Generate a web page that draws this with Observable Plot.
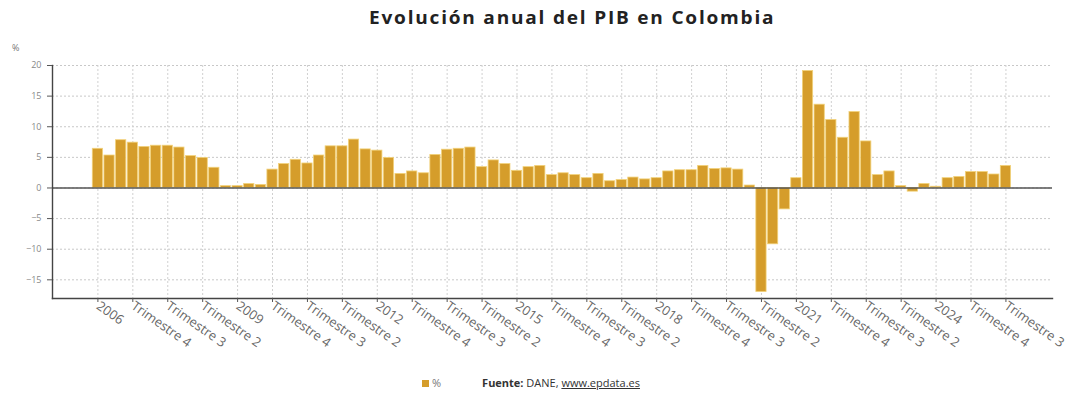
<!DOCTYPE html>
<html><head><meta charset="utf-8">
<script src="https://cdn.jsdelivr.net/npm/d3@7"></script>
<script src="https://cdn.jsdelivr.net/npm/@observablehq/plot@0.6"></script>
<style>
body{margin:0;background:#fff;font-family:"Open Sans",sans-serif;}
#wrap{position:relative;width:1068px;height:398px;overflow:hidden;}
#title{position:absolute;left:369px;top:6px;font-size:17px;font-weight:700;color:#222;letter-spacing:1.6px;white-space:nowrap;transform:scaleX(1.12);transform-origin:0 0;}
#unit{position:absolute;left:12px;top:41px;font-size:9px;color:#777;}
#chart{position:absolute;left:0;top:0;}
#legend{position:absolute;left:422px;top:375px;font-size:11px;color:#333;white-space:nowrap;}
#legend .sw{display:inline-block;width:7px;height:7px;background:#d59d2b;margin-right:3px;vertical-align:0px;}
#legend .u{color:#777;margin-right:41px;}
#legend a{color:#333;text-decoration:underline;}
</style></head>
<body><div id="wrap">
<div id="title">Evolución anual del PIB en Colombia</div>
<div id="unit">%</div>
<div id="chart"></div>
<div id="legend"><span class="sw"></span><span class="u">%</span><b>Fuente:</b> DANE, <a>www.epdata.es</a></div>
</div>
<script>
const startYear = 2006;
const values = [
  6.4, 5.3, 7.8, 7.4,
  6.7, 6.9, 6.9, 6.6,
  5.2, 4.9, 3.3, 0.3,
  0.3, 0.65, 0.5, 3.0,
  3.9, 4.6, 4.0, 5.3,
  6.8, 6.8, 7.9, 6.3,
  6.1, 4.9, 2.3, 2.7,
  2.4, 5.4, 6.25, 6.4,
  6.6, 3.4, 4.5, 3.9,
  2.8, 3.4, 3.6, 2.1,
  2.4, 2.1, 1.6, 2.3,
  1.1, 1.3, 1.7, 1.4,
  1.6, 2.7, 2.9, 2.9,
  3.6, 3.1, 3.2, 3.0,
  0.4, -17.0, -9.2, -3.5,
  1.6, 19.1, 13.6, 11.1,
  8.2, 12.4, 7.6, 2.1,
  2.7, 0.3, -0.6, 0.65,
  0.2, 1.6, 1.8, 2.6,
  2.6, 2.2, 3.6
];
const tickLabels = [
  "2006","Trimestre 4","Trimestre 3","Trimestre 2",
  "2009","Trimestre 4","Trimestre 3","Trimestre 2",
  "2012","Trimestre 4","Trimestre 3","Trimestre 2",
  "2015","Trimestre 4","Trimestre 3","Trimestre 2",
  "2018","Trimestre 4","Trimestre 3","Trimestre 2",
  "2021","Trimestre 4","Trimestre 3","Trimestre 2",
  "2024","Trimestre 4","Trimestre 3"
];
const tickStep = 3;
const yTicks = [-15, -10, -5, 0, 5, 10, 15, 20];

const data = values.map((v, i) => ({i, v, label: `${startYear + Math.floor(i / 4)} T${(i % 4) + 1}`}));
const tickIdx = tickLabels.map((_, k) => k * tickStep);

const chart = Plot.plot({
  width: 1068, height: 360,
  marginTop: 65, marginBottom: 62, marginLeft: 52, marginRight: 16,
  style: {fontFamily: "Open Sans, sans-serif", background: "transparent"},
  x: {type: "linear", domain: [-3.9, 82.0], axis: null},
  y: {domain: [-18.05, 20], axis: null},
  marks: [
    Plot.gridY(yTicks, {stroke: "#c8c8c8", strokeOpacity: 1, strokeDasharray: "2,2"}),
    Plot.gridX(tickIdx, {stroke: "#d0d0d0", strokeOpacity: 1, strokeDasharray: "2,2"}),
    Plot.rectY(data, {x1: d => d.i - 0.44, x2: d => d.i + 0.44, y: "v", fill: "#d59d2b", stroke: "#f2d27a", strokeWidth: 0.8}),
    Plot.ruleY([0], {stroke: "#555", strokeWidth: 1.4}),
    Plot.frame({anchor: "left", stroke: "#444", strokeWidth: 1.4}),
    Plot.frame({anchor: "bottom", stroke: "#444", strokeWidth: 1.4}),
    Plot.axisY(yTicks, {tickSize: 5, tickPadding: 6, fontSize: 9, fill: "#888", stroke: "#555", label: null, tickFormat: d => d < 0 ? "\u2212" + (-d) : String(d)}),
    Plot.axisX(tickIdx, {tickFormat: d => tickLabels[d / tickStep], tickRotate: 35, tickSize: 4, tickPadding: 2, fontSize: 13, fill: "#666", stroke: "#555", label: null, textAnchor: "start"})
  ]
});
document.getElementById("chart").appendChild(chart);
</script>
</body></html>
